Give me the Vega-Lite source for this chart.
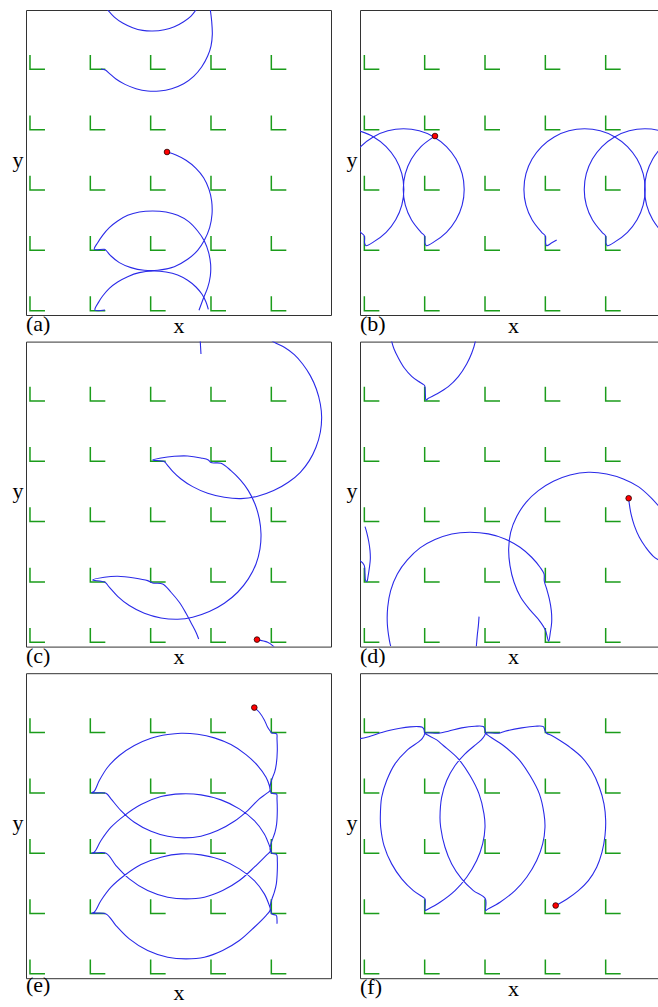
{
  "$schema": "https://vega.github.io/schema/vega-lite/v6.json",
  "padding": {"left": 11, "top": 9, "right": 0, "bottom": 0},
  "config": {
    "font": "Liberation Serif",
    "view": {"stroke": "#333333", "strokeWidth": 1},
    "axis": {"labels": false, "ticks": false, "domain": false, "grid": false, "titleFont": "Liberation Serif", "titleFontSize": 22, "titleFontWeight": "normal", "titleColor": "#000000", "minExtent": 0, "maxExtent": 0},
    "axisX": {"titlePadding": 0, "titleBaseline": "top"},
    "axisY": {"titleAngle": 0, "titleAlign": "right", "titleBaseline": "alphabetic", "titlePadding": 3, "titleY": 156},
    "title": {"font": "Liberation Serif", "fontSize": 22, "fontWeight": "normal", "color": "#000000", "orient": "bottom", "anchor": "start", "frame": "group", "offset": -22}
  },
  "datasets": {
    "lattice": [
      {"x": 0, "y": 0}, {"x": 1, "y": 0}, {"x": 2, "y": 0}, {"x": 3, "y": 0}, {"x": 4, "y": 0},
      {"x": 0, "y": 1}, {"x": 1, "y": 1}, {"x": 2, "y": 1}, {"x": 3, "y": 1}, {"x": 4, "y": 1},
      {"x": 0, "y": 2}, {"x": 1, "y": 2}, {"x": 2, "y": 2}, {"x": 3, "y": 2}, {"x": 4, "y": 2},
      {"x": 0, "y": 3}, {"x": 1, "y": 3}, {"x": 2, "y": 3}, {"x": 3, "y": 3}, {"x": 4, "y": 3},
      {"x": 0, "y": 4}, {"x": 1, "y": 4}, {"x": 2, "y": 4}, {"x": 3, "y": 4}, {"x": 4, "y": 4}
    ],
    "dots": [
      {"panel": "a", "x": 2.271, "y": 2.63},
      {"panel": "b", "x": 1.171, "y": 2.895},
      {"panel": "c", "x": 3.762, "y": 0.044},
      {"panel": "d", "x": 4.381, "y": 2.387},
      {"panel": "e", "x": 3.718, "y": 4.414},
      {"panel": "f", "x": 3.171, "y": 1.133}
    ],
    "pa": [
      {"seg":1,"ord":0,"x":2.271,"y":2.63},{"seg":1,"ord":1,"x":2.42,"y":2.58},{"seg":1,"ord":2,"x":2.586,"y":2.492},{"seg":1,"ord":3,"x":2.751,"y":2.359},
      {"seg":1,"ord":4,"x":2.878,"y":2.204},{"seg":1,"ord":5,"x":2.967,"y":2.011},{"seg":1,"ord":6,"x":3.011,"y":1.818},{"seg":1,"ord":7,"x":3.017,"y":1.597},
      {"seg":1,"ord":8,"x":2.978,"y":1.376},{"seg":1,"ord":9,"x":2.89,"y":1.166},{"seg":1,"ord":10,"x":2.779,"y":1.0},{"seg":1,"ord":11,"x":2.613,"y":0.851},
      {"seg":1,"ord":12,"x":2.392,"y":0.729},{"seg":1,"ord":13,"x":2.116,"y":0.669},{"seg":1,"ord":14,"x":1.895,"y":0.669},{"seg":1,"ord":15,"x":1.674,"y":0.713},
      {"seg":1,"ord":16,"x":1.481,"y":0.796},{"seg":1,"ord":17,"x":1.343,"y":0.906},{"seg":1,"ord":18,"x":1.26,"y":1.0},{"seg":1,"ord":19,"x":1.232,"y":1.017},
      {"seg":1,"ord":20,"x":1.066,"y":1.017},{"seg":1,"ord":21,"x":1.122,"y":1.127},{"seg":1,"ord":22,"x":1.204,"y":1.249},{"seg":1,"ord":23,"x":1.315,"y":1.376},
      {"seg":1,"ord":24,"x":1.453,"y":1.486},{"seg":1,"ord":25,"x":1.619,"y":1.58},{"seg":1,"ord":26,"x":1.812,"y":1.635},{"seg":1,"ord":27,"x":2.033,"y":1.652},
      {"seg":1,"ord":28,"x":2.254,"y":1.635},{"seg":1,"ord":29,"x":2.448,"y":1.58},{"seg":1,"ord":30,"x":2.63,"y":1.475},{"seg":1,"ord":31,"x":2.779,"y":1.32},
      {"seg":1,"ord":32,"x":2.89,"y":1.155},{"seg":1,"ord":33,"x":2.961,"y":0.961},{"seg":1,"ord":34,"x":2.994,"y":0.768},{"seg":1,"ord":35,"x":2.989,"y":0.575},
      {"seg":1,"ord":36,"x":2.945,"y":0.381},{"seg":1,"ord":37,"x":2.878,"y":0.215},{"seg":1,"ord":38,"x":2.801,"y":0.006},
      {"seg":2,"ord":39,"x":1.243,"y":0.011},{"seg":2,"ord":40,"x":1.077,"y":0.011},{"seg":2,"ord":41,"x":1.133,"y":0.133},{"seg":2,"ord":42,"x":1.204,"y":0.243},
      {"seg":2,"ord":43,"x":1.315,"y":0.37},{"seg":2,"ord":44,"x":1.453,"y":0.475},{"seg":2,"ord":45,"x":1.619,"y":0.564},{"seg":2,"ord":46,"x":1.812,"y":0.63},
      {"seg":2,"ord":47,"x":2.033,"y":0.657},{"seg":2,"ord":48,"x":2.254,"y":0.641},{"seg":2,"ord":49,"x":2.448,"y":0.591},{"seg":2,"ord":50,"x":2.613,"y":0.503},
      {"seg":2,"ord":51,"x":2.751,"y":0.392},{"seg":2,"ord":52,"x":2.851,"y":0.271},{"seg":2,"ord":53,"x":2.917,"y":0.144},{"seg":2,"ord":54,"x":2.956,"y":0.022},
      {"seg":3,"ord":55,"x":2.751,"y":4.985},{"seg":3,"ord":56,"x":2.669,"y":4.884},{"seg":3,"ord":57,"x":2.547,"y":4.79},{"seg":3,"ord":58,"x":2.392,"y":4.707},
      {"seg":3,"ord":59,"x":2.227,"y":4.657},{"seg":3,"ord":60,"x":2.033,"y":4.635},{"seg":3,"ord":61,"x":1.867,"y":4.646},{"seg":3,"ord":62,"x":1.702,"y":4.691},
      {"seg":3,"ord":63,"x":1.536,"y":4.768},{"seg":3,"ord":64,"x":1.398,"y":4.867},{"seg":3,"ord":65,"x":1.287,"y":4.985},
      {"seg":4,"ord":66,"x":2.989,"y":4.985},{"seg":4,"ord":67,"x":3.011,"y":4.801},{"seg":4,"ord":68,"x":3.022,"y":4.58},{"seg":4,"ord":69,"x":3.0,"y":4.387},
      {"seg":4,"ord":70,"x":2.945,"y":4.221},{"seg":4,"ord":71,"x":2.845,"y":4.039},{"seg":4,"ord":72,"x":2.713,"y":3.884},{"seg":4,"ord":73,"x":2.547,"y":3.762},
      {"seg":4,"ord":74,"x":2.348,"y":3.68},{"seg":4,"ord":75,"x":2.144,"y":3.641},{"seg":4,"ord":76,"x":1.95,"y":3.641},{"seg":4,"ord":77,"x":1.757,"y":3.68},
      {"seg":4,"ord":78,"x":1.575,"y":3.751},{"seg":4,"ord":79,"x":1.425,"y":3.84},{"seg":4,"ord":80,"x":1.315,"y":3.934},{"seg":4,"ord":81,"x":1.249,"y":3.989},
      {"seg":4,"ord":82,"x":1.177,"y":4.006}
    ],
    "pb": [
      {"seg":1,"ord":0,"x":3.188,"y":1.171},{"seg":1,"ord":1,"x":3.1,"y":1.12},{"seg":1,"ord":2,"x":3.022,"y":1.078},{"seg":1,"ord":3,"x":3.004,"y":1.12},
      {"seg":1,"ord":4,"x":3.0,"y":1.237},{"seg":1,"ord":5,"x":2.939,"y":1.299},{"seg":1,"ord":6,"x":2.78,"y":1.507},{"seg":1,"ord":7,"x":2.679,"y":1.75},
      {"seg":1,"ord":8,"x":2.645,"y":2.01},{"seg":1,"ord":9,"x":2.679,"y":2.27},{"seg":1,"ord":10,"x":2.78,"y":2.513},{"seg":1,"ord":11,"x":2.939,"y":2.721},
      {"seg":1,"ord":12,"x":3.147,"y":2.88},{"seg":1,"ord":13,"x":3.39,"y":2.981},{"seg":1,"ord":14,"x":3.65,"y":3.015},{"seg":1,"ord":15,"x":3.91,"y":2.981},
      {"seg":1,"ord":16,"x":4.153,"y":2.88},{"seg":1,"ord":17,"x":4.361,"y":2.721},{"seg":1,"ord":18,"x":4.52,"y":2.513},{"seg":1,"ord":19,"x":4.621,"y":2.27},
      {"seg":1,"ord":20,"x":4.655,"y":2.01},{"seg":1,"ord":21,"x":4.621,"y":1.75},{"seg":1,"ord":22,"x":4.52,"y":1.507},{"seg":1,"ord":23,"x":4.361,"y":1.299},
      {"seg":1,"ord":24,"x":4.153,"y":1.14},{"seg":1,"ord":25,"x":4.027,"y":1.078},{"seg":1,"ord":26,"x":4.004,"y":1.12},{"seg":1,"ord":27,"x":4.0,"y":1.237},
      {"seg":1,"ord":28,"x":3.939,"y":1.299},{"seg":1,"ord":29,"x":3.78,"y":1.507},{"seg":1,"ord":30,"x":3.679,"y":1.75},{"seg":1,"ord":31,"x":3.645,"y":2.01},
      {"seg":1,"ord":32,"x":3.679,"y":2.27},{"seg":1,"ord":33,"x":3.78,"y":2.513},{"seg":1,"ord":34,"x":3.939,"y":2.721},{"seg":1,"ord":35,"x":4.147,"y":2.88},
      {"seg":1,"ord":36,"x":4.39,"y":2.981},{"seg":1,"ord":37,"x":4.65,"y":3.015},{"seg":1,"ord":38,"x":4.91,"y":2.981},{"seg":1,"ord":39,"x":5.153,"y":2.88},
      {"seg":2,"ord":40,"x":-0.09,"y":2.981},{"seg":2,"ord":41,"x":0.153,"y":2.88},{"seg":2,"ord":42,"x":0.361,"y":2.721},{"seg":2,"ord":43,"x":0.52,"y":2.513},
      {"seg":2,"ord":44,"x":0.621,"y":2.27},{"seg":2,"ord":45,"x":0.655,"y":2.01},{"seg":2,"ord":46,"x":0.621,"y":1.75},{"seg":2,"ord":47,"x":0.52,"y":1.507},
      {"seg":2,"ord":48,"x":0.361,"y":1.299},{"seg":2,"ord":49,"x":0.153,"y":1.14},{"seg":2,"ord":50,"x":0.027,"y":1.078},{"seg":2,"ord":51,"x":0.004,"y":1.12},
      {"seg":2,"ord":52,"x":0.0,"y":1.237},{"seg":2,"ord":53,"x":-0.061,"y":1.299},{"seg":2,"ord":54,"x":-0.22,"y":1.507},{"seg":2,"ord":55,"x":-0.321,"y":1.75},
      {"seg":2,"ord":56,"x":-0.355,"y":2.01},{"seg":2,"ord":57,"x":-0.321,"y":2.27},{"seg":2,"ord":58,"x":-0.22,"y":2.513},{"seg":2,"ord":59,"x":-0.061,"y":2.721},
      {"seg":2,"ord":60,"x":0.147,"y":2.88},{"seg":2,"ord":61,"x":0.39,"y":2.981},{"seg":2,"ord":62,"x":0.65,"y":3.015},{"seg":2,"ord":63,"x":0.91,"y":2.981},
      {"seg":2,"ord":64,"x":1.153,"y":2.88},{"seg":2,"ord":65,"x":1.361,"y":2.721},{"seg":2,"ord":66,"x":1.52,"y":2.513},{"seg":2,"ord":67,"x":1.621,"y":2.27},
      {"seg":2,"ord":68,"x":1.655,"y":2.01},{"seg":2,"ord":69,"x":1.621,"y":1.75},{"seg":2,"ord":70,"x":1.52,"y":1.507},{"seg":2,"ord":71,"x":1.361,"y":1.299},
      {"seg":2,"ord":72,"x":1.153,"y":1.14},{"seg":2,"ord":73,"x":1.027,"y":1.078},{"seg":2,"ord":74,"x":1.004,"y":1.12},{"seg":2,"ord":75,"x":1.0,"y":1.237},
      {"seg":2,"ord":76,"x":0.939,"y":1.299},{"seg":2,"ord":77,"x":0.78,"y":1.507},{"seg":2,"ord":78,"x":0.679,"y":1.75},{"seg":2,"ord":79,"x":0.645,"y":2.01},
      {"seg":2,"ord":80,"x":0.679,"y":2.27},{"seg":2,"ord":81,"x":0.78,"y":2.513},{"seg":2,"ord":82,"x":0.939,"y":2.721},{"seg":2,"ord":83,"x":1.147,"y":2.88},
      {"seg":2,"ord":84,"x":1.171,"y":2.895},
      {"seg":3,"ord":85,"x":5.0,"y":1.243},{"seg":3,"ord":86,"x":4.939,"y":1.299},{"seg":3,"ord":87,"x":4.78,"y":1.507},{"seg":3,"ord":88,"x":4.679,"y":1.75},
      {"seg":3,"ord":89,"x":4.645,"y":2.01},{"seg":3,"ord":90,"x":4.679,"y":2.27},{"seg":3,"ord":91,"x":4.78,"y":2.513},{"seg":3,"ord":92,"x":4.939,"y":2.721},
      {"seg":3,"ord":93,"x":5.147,"y":2.88}
    ],
    "pc": [
      {"seg":1,"ord":0,"x":3.762,"y":0.044},{"seg":1,"ord":1,"x":3.939,"y":0.0},{"seg":1,"ord":2,"x":4.022,"y":-0.055},{"seg":1,"ord":3,"x":4.06,"y":-0.1},
      {"seg":2,"ord":4,"x":3.967,"y":5.03},{"seg":2,"ord":5,"x":4.05,"y":4.972},{"seg":2,"ord":6,"x":4.215,"y":4.89},{"seg":2,"ord":7,"x":4.381,"y":4.768},
      {"seg":2,"ord":8,"x":4.519,"y":4.613},{"seg":2,"ord":9,"x":4.646,"y":4.42},{"seg":2,"ord":10,"x":4.746,"y":4.199},{"seg":2,"ord":11,"x":4.812,"y":3.95},
      {"seg":2,"ord":12,"x":4.834,"y":3.729},{"seg":2,"ord":13,"x":4.812,"y":3.481},{"seg":2,"ord":14,"x":4.74,"y":3.232},{"seg":2,"ord":15,"x":4.63,"y":3.011},
      {"seg":2,"ord":16,"x":4.481,"y":2.818},{"seg":2,"ord":17,"x":4.282,"y":2.652},{"seg":2,"ord":18,"x":4.039,"y":2.514},{"seg":2,"ord":19,"x":3.773,"y":2.42},
      {"seg":2,"ord":20,"x":3.497,"y":2.381},{"seg":2,"ord":21,"x":3.221,"y":2.403},{"seg":2,"ord":22,"x":2.945,"y":2.47},{"seg":2,"ord":23,"x":2.696,"y":2.58},
      {"seg":2,"ord":24,"x":2.503,"y":2.707},{"seg":2,"ord":25,"x":2.365,"y":2.834},{"seg":2,"ord":26,"x":2.271,"y":2.945},{"seg":2,"ord":27,"x":2.227,"y":2.994},
      {"seg":2,"ord":28,"x":2.033,"y":3.022},{"seg":2,"ord":29,"x":2.171,"y":3.055},{"seg":2,"ord":30,"x":2.392,"y":3.083},{"seg":2,"ord":31,"x":2.613,"y":3.088},
      {"seg":2,"ord":32,"x":2.834,"y":3.055},{"seg":2,"ord":33,"x":2.956,"y":3.022},{"seg":2,"ord":34,"x":3.0,"y":2.978},{"seg":2,"ord":35,"x":3.166,"y":2.967},
      {"seg":2,"ord":36,"x":3.331,"y":2.845},{"seg":2,"ord":37,"x":3.486,"y":2.691},{"seg":2,"ord":38,"x":3.619,"y":2.514},{"seg":2,"ord":39,"x":3.729,"y":2.293},
      {"seg":2,"ord":40,"x":3.801,"y":2.044},{"seg":2,"ord":41,"x":3.829,"y":1.796},{"seg":2,"ord":42,"x":3.812,"y":1.547},{"seg":2,"ord":43,"x":3.746,"y":1.298},
      {"seg":2,"ord":44,"x":3.619,"y":1.05},{"seg":2,"ord":45,"x":3.442,"y":0.829},{"seg":2,"ord":46,"x":3.221,"y":0.646},{"seg":2,"ord":47,"x":2.972,"y":0.508},
      {"seg":2,"ord":48,"x":2.696,"y":0.414},{"seg":2,"ord":49,"x":2.448,"y":0.381},{"seg":2,"ord":50,"x":2.171,"y":0.403},{"seg":2,"ord":51,"x":1.895,"y":0.481},
      {"seg":2,"ord":52,"x":1.646,"y":0.608},{"seg":2,"ord":53,"x":1.453,"y":0.762},{"seg":2,"ord":54,"x":1.315,"y":0.912},{"seg":2,"ord":55,"x":1.243,"y":0.994},
      {"seg":2,"ord":56,"x":1.039,"y":1.033},{"seg":2,"ord":57,"x":1.232,"y":1.077},{"seg":2,"ord":58,"x":1.453,"y":1.094},{"seg":2,"ord":59,"x":1.729,"y":1.066},
      {"seg":2,"ord":60,"x":1.95,"y":1.022},{"seg":2,"ord":61,"x":2.033,"y":0.983},{"seg":2,"ord":62,"x":2.199,"y":0.967},{"seg":2,"ord":63,"x":2.337,"y":0.829},
      {"seg":2,"ord":64,"x":2.475,"y":0.663},{"seg":2,"ord":65,"x":2.586,"y":0.481},{"seg":2,"ord":66,"x":2.68,"y":0.304},{"seg":2,"ord":67,"x":2.751,"y":0.166},
      {"seg":2,"ord":68,"x":2.796,"y":0.055},
      {"seg":3,"ord":69,"x":2.82,"y":5.03},{"seg":3,"ord":70,"x":2.823,"y":4.972},{"seg":3,"ord":71,"x":2.834,"y":4.779}
    ],
    "pd": [
      {"seg":1,"ord":0,"x":1.901,"y":0.425},{"seg":1,"ord":1,"x":1.89,"y":0.276},{"seg":1,"ord":2,"x":1.873,"y":0.127},{"seg":1,"ord":3,"x":1.862,"y":0.0},
      {"seg":1,"ord":4,"x":1.856,"y":-0.07},
      {"seg":2,"ord":5,"x":1.845,"y":5.03},{"seg":2,"ord":6,"x":1.84,"y":4.989},{"seg":2,"ord":7,"x":1.779,"y":4.79},{"seg":2,"ord":8,"x":1.696,"y":4.613},
      {"seg":2,"ord":9,"x":1.558,"y":4.403},{"seg":2,"ord":10,"x":1.392,"y":4.238},{"seg":2,"ord":11,"x":1.199,"y":4.116},{"seg":2,"ord":12,"x":1.061,"y":4.044},
      {"seg":2,"ord":13,"x":1.022,"y":4.017},{"seg":2,"ord":14,"x":1.011,"y":4.116},{"seg":2,"ord":15,"x":1.0,"y":4.254},{"seg":2,"ord":16,"x":0.967,"y":4.282},
      {"seg":2,"ord":17,"x":0.895,"y":4.326},{"seg":2,"ord":18,"x":0.785,"y":4.409},{"seg":2,"ord":19,"x":0.663,"y":4.547},{"seg":2,"ord":20,"x":0.564,"y":4.713},
      {"seg":2,"ord":21,"x":0.492,"y":4.862},{"seg":2,"ord":22,"x":0.453,"y":4.989},{"seg":2,"ord":23,"x":0.445,"y":5.03},
      {"seg":3,"ord":24,"x":0.436,"y":-0.066},{"seg":3,"ord":25,"x":0.414,"y":0.039},{"seg":3,"ord":26,"x":0.381,"y":0.304},{"seg":3,"ord":27,"x":0.387,"y":0.58},
      {"seg":3,"ord":28,"x":0.436,"y":0.856},{"seg":3,"ord":29,"x":0.547,"y":1.133},{"seg":3,"ord":30,"x":0.713,"y":1.365},{"seg":3,"ord":31,"x":0.923,"y":1.564},
      {"seg":3,"ord":32,"x":1.171,"y":1.702},{"seg":3,"ord":33,"x":1.448,"y":1.796},{"seg":3,"ord":34,"x":1.751,"y":1.823},{"seg":3,"ord":35,"x":2.055,"y":1.796},
      {"seg":3,"ord":36,"x":2.331,"y":1.713},{"seg":3,"ord":37,"x":2.58,"y":1.575},{"seg":3,"ord":38,"x":2.773,"y":1.409},{"seg":3,"ord":39,"x":2.912,"y":1.243},
      {"seg":3,"ord":40,"x":2.978,"y":1.133},{"seg":3,"ord":41,"x":2.983,"y":1.011},{"seg":3,"ord":42,"x":3.022,"y":0.884},{"seg":3,"ord":43,"x":3.066,"y":0.718},
      {"seg":3,"ord":44,"x":3.099,"y":0.525},{"seg":3,"ord":45,"x":3.105,"y":0.331},{"seg":3,"ord":46,"x":3.083,"y":0.166},{"seg":3,"ord":47,"x":3.055,"y":0.017},
      {"seg":3,"ord":48,"x":3.0,"y":0.204},{"seg":3,"ord":49,"x":2.901,"y":0.359},{"seg":3,"ord":50,"x":2.746,"y":0.536},{"seg":3,"ord":51,"x":2.591,"y":0.746},
      {"seg":3,"ord":52,"x":2.481,"y":0.994},{"seg":3,"ord":53,"x":2.414,"y":1.271},{"seg":3,"ord":54,"x":2.392,"y":1.547},{"seg":3,"ord":55,"x":2.425,"y":1.823},
      {"seg":3,"ord":56,"x":2.525,"y":2.083},{"seg":3,"ord":57,"x":2.68,"y":2.32},{"seg":3,"ord":58,"x":2.884,"y":2.514},{"seg":3,"ord":59,"x":3.133,"y":2.669},
      {"seg":3,"ord":60,"x":3.409,"y":2.773},{"seg":3,"ord":61,"x":3.713,"y":2.818},{"seg":3,"ord":62,"x":4.017,"y":2.79},{"seg":3,"ord":63,"x":4.293,"y":2.707},
      {"seg":3,"ord":64,"x":4.541,"y":2.58},{"seg":3,"ord":65,"x":4.746,"y":2.403},{"seg":3,"ord":66,"x":4.873,"y":2.265},{"seg":3,"ord":67,"x":4.983,"y":2.127},
      {"seg":4,"ord":68,"x":0.011,"y":1.917},{"seg":4,"ord":69,"x":0.039,"y":1.823},{"seg":4,"ord":70,"x":0.072,"y":1.674},{"seg":4,"ord":71,"x":0.094,"y":1.519},
      {"seg":4,"ord":72,"x":0.099,"y":1.381},{"seg":4,"ord":73,"x":0.083,"y":1.232},{"seg":4,"ord":74,"x":0.061,"y":1.088},{"seg":4,"ord":75,"x":0.044,"y":1.011},
      {"seg":4,"ord":76,"x":0.022,"y":1.022},{"seg":4,"ord":77,"x":0.011,"y":1.133},{"seg":4,"ord":78,"x":0.0,"y":1.271},{"seg":4,"ord":79,"x":-0.028,"y":1.315},
      {"seg":4,"ord":80,"x":-0.08,"y":1.36},
      {"seg":5,"ord":81,"x":4.956,"y":1.315},{"seg":5,"ord":82,"x":4.79,"y":1.425},{"seg":5,"ord":83,"x":4.663,"y":1.575},{"seg":5,"ord":84,"x":4.558,"y":1.74},
      {"seg":5,"ord":85,"x":4.475,"y":1.934},{"seg":5,"ord":86,"x":4.42,"y":2.127},{"seg":5,"ord":87,"x":4.392,"y":2.293},{"seg":5,"ord":88,"x":4.381,"y":2.387}
    ],
    "pe": [
      {"seg":1,"ord":0,"x":3.718,"y":4.414},{"seg":1,"ord":1,"x":3.801,"y":4.337},{"seg":1,"ord":2,"x":3.884,"y":4.21},{"seg":1,"ord":3,"x":3.939,"y":4.088},
      {"seg":1,"ord":4,"x":3.983,"y":4.022},{"seg":1,"ord":5,"x":4.006,"y":3.994},{"seg":1,"ord":6,"x":4.088,"y":3.978},{"seg":1,"ord":7,"x":4.094,"y":3.895},
      {"seg":1,"ord":8,"x":4.099,"y":3.702},{"seg":1,"ord":9,"x":4.083,"y":3.481},{"seg":1,"ord":10,"x":4.055,"y":3.343},{"seg":1,"ord":11,"x":4.022,"y":3.26},
      {"seg":1,"ord":12,"x":3.994,"y":3.177},{"seg":1,"ord":13,"x":3.978,"y":3.094},{"seg":1,"ord":14,"x":3.978,"y":3.039},
      {"seg":1,"ord":15,"x":3.912,"y":2.983},{"seg":1,"ord":16,"x":3.801,"y":2.901},{"seg":1,"ord":17,"x":3.608,"y":2.707},{"seg":1,"ord":18,"x":3.387,"y":2.53},
      {"seg":1,"ord":19,"x":3.11,"y":2.376},{"seg":1,"ord":20,"x":2.834,"y":2.282},{"seg":1,"ord":21,"x":2.558,"y":2.254},{"seg":1,"ord":22,"x":2.282,"y":2.282},
      {"seg":1,"ord":23,"x":2.006,"y":2.365},{"seg":1,"ord":24,"x":1.729,"y":2.514},{"seg":1,"ord":25,"x":1.508,"y":2.707},{"seg":1,"ord":26,"x":1.343,"y":2.901},
      {"seg":1,"ord":27,"x":1.26,"y":2.994},{"seg":1,"ord":28,"x":1.022,"y":3.0},
      {"seg":1,"ord":29,"x":1.066,"y":3.028},{"seg":1,"ord":30,"x":1.149,"y":3.204},{"seg":1,"ord":31,"x":1.287,"y":3.425},{"seg":1,"ord":32,"x":1.481,"y":3.619},
      {"seg":1,"ord":33,"x":1.729,"y":3.785},{"seg":1,"ord":34,"x":2.006,"y":3.906},{"seg":1,"ord":35,"x":2.282,"y":3.967},{"seg":1,"ord":36,"x":2.503,"y":3.989},
      {"seg":1,"ord":37,"x":2.779,"y":3.972},{"seg":1,"ord":38,"x":3.055,"y":3.912},{"seg":1,"ord":39,"x":3.331,"y":3.801},{"seg":1,"ord":40,"x":3.58,"y":3.635},
      {"seg":1,"ord":41,"x":3.773,"y":3.453},{"seg":1,"ord":42,"x":3.912,"y":3.26},{"seg":1,"ord":43,"x":3.967,"y":3.122},{"seg":1,"ord":44,"x":3.983,"y":3.039},
      {"seg":1,"ord":45,"x":4.006,"y":2.994},{"seg":1,"ord":46,"x":4.088,"y":2.978},
      {"seg":1,"ord":47,"x":4.094,"y":2.901},{"seg":1,"ord":48,"x":4.099,"y":2.707},{"seg":1,"ord":49,"x":4.088,"y":2.486},{"seg":1,"ord":50,"x":4.061,"y":2.348},
      {"seg":1,"ord":51,"x":4.022,"y":2.238},{"seg":1,"ord":52,"x":3.994,"y":2.155},{"seg":1,"ord":53,"x":3.978,"y":2.072},{"seg":1,"ord":54,"x":3.983,"y":2.033},
      {"seg":1,"ord":55,"x":3.912,"y":1.961},{"seg":1,"ord":56,"x":3.718,"y":1.768},{"seg":1,"ord":57,"x":3.47,"y":1.547},{"seg":1,"ord":58,"x":3.193,"y":1.381},
      {"seg":1,"ord":59,"x":2.89,"y":1.271},{"seg":1,"ord":60,"x":2.586,"y":1.243},{"seg":1,"ord":61,"x":2.282,"y":1.271},{"seg":1,"ord":62,"x":1.95,"y":1.381},
      {"seg":1,"ord":63,"x":1.646,"y":1.575},{"seg":1,"ord":64,"x":1.425,"y":1.796},{"seg":1,"ord":65,"x":1.26,"y":2.0},{"seg":1,"ord":66,"x":1.022,"y":2.0},
      {"seg":1,"ord":67,"x":1.066,"y":2.017},{"seg":1,"ord":68,"x":1.177,"y":2.21},{"seg":1,"ord":69,"x":1.343,"y":2.431},{"seg":1,"ord":70,"x":1.564,"y":2.624},
      {"seg":1,"ord":71,"x":1.84,"y":2.807},{"seg":1,"ord":72,"x":2.171,"y":2.939},{"seg":1,"ord":73,"x":2.503,"y":2.983},{"seg":1,"ord":74,"x":2.834,"y":2.967},
      {"seg":1,"ord":75,"x":3.166,"y":2.884},{"seg":1,"ord":76,"x":3.47,"y":2.735},{"seg":1,"ord":77,"x":3.718,"y":2.541},{"seg":1,"ord":78,"x":3.884,"y":2.32},
      {"seg":1,"ord":79,"x":3.967,"y":2.127},{"seg":1,"ord":80,"x":3.994,"y":2.044},{"seg":1,"ord":81,"x":4.006,"y":2.0},{"seg":1,"ord":82,"x":4.088,"y":1.978},
      {"seg":1,"ord":83,"x":4.099,"y":1.878},{"seg":1,"ord":84,"x":4.099,"y":1.713},{"seg":1,"ord":85,"x":4.083,"y":1.492},{"seg":1,"ord":86,"x":4.05,"y":1.354},
      {"seg":1,"ord":87,"x":4.011,"y":1.243},{"seg":1,"ord":88,"x":3.983,"y":1.133},{"seg":1,"ord":89,"x":3.978,"y":1.05},
      {"seg":1,"ord":90,"x":3.912,"y":0.967},{"seg":1,"ord":91,"x":3.718,"y":0.773},{"seg":1,"ord":92,"x":3.47,"y":0.552},{"seg":1,"ord":93,"x":3.193,"y":0.387},
      {"seg":1,"ord":94,"x":2.89,"y":0.276},{"seg":1,"ord":95,"x":2.586,"y":0.249},{"seg":1,"ord":96,"x":2.282,"y":0.276},{"seg":1,"ord":97,"x":1.95,"y":0.387},
      {"seg":1,"ord":98,"x":1.646,"y":0.58},{"seg":1,"ord":99,"x":1.425,"y":0.801},{"seg":1,"ord":100,"x":1.26,"y":0.994},{"seg":1,"ord":101,"x":1.022,"y":1.006},
      {"seg":1,"ord":102,"x":1.066,"y":1.022},{"seg":1,"ord":103,"x":1.177,"y":1.215},{"seg":1,"ord":104,"x":1.343,"y":1.436},{"seg":1,"ord":105,"x":1.564,"y":1.63},
      {"seg":1,"ord":106,"x":1.84,"y":1.812},{"seg":1,"ord":107,"x":2.171,"y":1.934},{"seg":1,"ord":108,"x":2.503,"y":1.989},{"seg":1,"ord":109,"x":2.834,"y":1.972},
      {"seg":1,"ord":110,"x":3.166,"y":1.89},{"seg":1,"ord":111,"x":3.47,"y":1.74},{"seg":1,"ord":112,"x":3.718,"y":1.547},{"seg":1,"ord":113,"x":3.884,"y":1.326},
      {"seg":1,"ord":114,"x":3.967,"y":1.133},{"seg":1,"ord":115,"x":3.994,"y":1.039},{"seg":1,"ord":116,"x":4.006,"y":0.994},{"seg":1,"ord":117,"x":4.083,"y":0.967},
      {"seg":1,"ord":118,"x":4.094,"y":0.895},{"seg":1,"ord":119,"x":4.094,"y":0.829}
    ],
    "pf": [
      {"seg":1,"ord":0,"x":-0.08,"y":3.897},{"seg":1,"ord":1,"x":0.039,"y":3.923},{"seg":1,"ord":2,"x":0.149,"y":3.956},{"seg":1,"ord":3,"x":0.287,"y":4.0},
      {"seg":1,"ord":4,"x":0.425,"y":4.039},{"seg":1,"ord":5,"x":0.591,"y":4.072},{"seg":1,"ord":6,"x":0.757,"y":4.094},{"seg":1,"ord":7,"x":0.895,"y":4.099},
      {"seg":1,"ord":8,"x":0.961,"y":4.088},{"seg":1,"ord":9,"x":0.989,"y":4.05},{"seg":1,"ord":10,"x":1.0,"y":3.994},
      {"seg":1,"ord":11,"x":1.033,"y":3.967},{"seg":1,"ord":12,"x":1.199,"y":3.878},{"seg":1,"ord":13,"x":1.309,"y":3.785},{"seg":1,"ord":14,"x":1.558,"y":3.564},
      {"seg":1,"ord":15,"x":1.751,"y":3.287},{"seg":1,"ord":16,"x":1.901,"y":2.983},{"seg":1,"ord":17,"x":1.983,"y":2.652},{"seg":1,"ord":18,"x":2.0,"y":2.431},
      {"seg":1,"ord":19,"x":1.961,"y":2.155},{"seg":1,"ord":20,"x":1.862,"y":1.878},{"seg":1,"ord":21,"x":1.696,"y":1.602},{"seg":1,"ord":22,"x":1.503,"y":1.381},
      {"seg":1,"ord":23,"x":1.254,"y":1.188},{"seg":1,"ord":24,"x":1.033,"y":1.061},{"seg":1,"ord":25,"x":1.011,"y":1.05},{"seg":1,"ord":26,"x":1.006,"y":1.243},
      {"seg":1,"ord":27,"x":0.989,"y":1.26},{"seg":1,"ord":28,"x":0.812,"y":1.381},{"seg":1,"ord":29,"x":0.619,"y":1.575},{"seg":1,"ord":30,"x":0.453,"y":1.823},
      {"seg":1,"ord":31,"x":0.326,"y":2.127},{"seg":1,"ord":32,"x":0.271,"y":2.431},{"seg":1,"ord":33,"x":0.265,"y":2.597},{"seg":1,"ord":34,"x":0.287,"y":2.928},
      {"seg":1,"ord":35,"x":0.37,"y":3.204},{"seg":1,"ord":36,"x":0.508,"y":3.481},{"seg":1,"ord":37,"x":0.702,"y":3.702},{"seg":1,"ord":38,"x":0.939,"y":3.878},
      {"seg":1,"ord":39,"x":0.989,"y":3.95},{"seg":1,"ord":40,"x":1.006,"y":3.989},{"seg":1,"ord":41,"x":1.227,"y":3.989},
      {"seg":1,"ord":42,"x":1.392,"y":4.022},{"seg":1,"ord":43,"x":1.613,"y":4.077},{"seg":1,"ord":44,"x":1.834,"y":4.105},{"seg":1,"ord":45,"x":1.972,"y":4.099},
      {"seg":1,"ord":46,"x":2.0,"y":4.044},{"seg":1,"ord":47,"x":2.011,"y":3.989},
      {"seg":1,"ord":48,"x":2.039,"y":3.961},{"seg":1,"ord":49,"x":2.304,"y":3.785},{"seg":1,"ord":50,"x":2.552,"y":3.564},{"seg":1,"ord":51,"x":2.746,"y":3.287},
      {"seg":1,"ord":52,"x":2.901,"y":2.983},{"seg":1,"ord":53,"x":2.978,"y":2.652},{"seg":1,"ord":54,"x":2.994,"y":2.431},{"seg":1,"ord":55,"x":2.956,"y":2.155},
      {"seg":1,"ord":56,"x":2.856,"y":1.878},{"seg":1,"ord":57,"x":2.691,"y":1.602},{"seg":1,"ord":58,"x":2.497,"y":1.381},{"seg":1,"ord":59,"x":2.249,"y":1.188},
      {"seg":1,"ord":60,"x":2.028,"y":1.061},{"seg":1,"ord":61,"x":2.011,"y":1.05},{"seg":1,"ord":62,"x":2.006,"y":1.243},
      {"seg":1,"ord":63,"x":1.807,"y":1.381},{"seg":1,"ord":64,"x":1.613,"y":1.575},{"seg":1,"ord":65,"x":1.448,"y":1.823},{"seg":1,"ord":66,"x":1.337,"y":2.099},
      {"seg":1,"ord":67,"x":1.265,"y":2.431},{"seg":1,"ord":68,"x":1.254,"y":2.597},{"seg":1,"ord":69,"x":1.282,"y":2.928},{"seg":1,"ord":70,"x":1.365,"y":3.204},
      {"seg":1,"ord":71,"x":1.503,"y":3.453},{"seg":1,"ord":72,"x":1.669,"y":3.646},{"seg":1,"ord":73,"x":1.862,"y":3.812},{"seg":1,"ord":74,"x":1.939,"y":3.878},
      {"seg":1,"ord":75,"x":1.994,"y":3.95},{"seg":1,"ord":76,"x":2.011,"y":3.989},{"seg":1,"ord":77,"x":2.221,"y":3.989},
      {"seg":1,"ord":78,"x":2.331,"y":4.022},{"seg":1,"ord":79,"x":2.608,"y":4.077},{"seg":1,"ord":80,"x":2.829,"y":4.105},{"seg":1,"ord":81,"x":2.967,"y":4.099},
      {"seg":1,"ord":82,"x":2.994,"y":4.033},{"seg":1,"ord":83,"x":3.022,"y":3.989},
      {"seg":1,"ord":84,"x":3.105,"y":3.95},{"seg":1,"ord":85,"x":3.243,"y":3.867},{"seg":1,"ord":86,"x":3.42,"y":3.746},{"seg":1,"ord":87,"x":3.602,"y":3.591},
      {"seg":1,"ord":88,"x":3.768,"y":3.37},{"seg":1,"ord":89,"x":3.895,"y":3.094},{"seg":1,"ord":90,"x":3.972,"y":2.818},{"seg":1,"ord":91,"x":4.0,"y":2.541},
      {"seg":1,"ord":92,"x":3.989,"y":2.293},{"seg":1,"ord":93,"x":3.939,"y":2.017},{"seg":1,"ord":94,"x":3.851,"y":1.768},{"seg":1,"ord":95,"x":3.713,"y":1.547},
      {"seg":1,"ord":96,"x":3.547,"y":1.381},{"seg":1,"ord":97,"x":3.354,"y":1.238},{"seg":1,"ord":98,"x":3.171,"y":1.133}
    ]
  },
  "spacing": 3.6,
  "vconcat": [
    {
      "spacing": 13,
      "hconcat": [
        {
          "width": 305, "height": 305,
          "title": "(a)",
          "encoding": {
            "x": {"field": "x", "type": "quantitative", "scale": {"domain": [-0.066, 4.989], "nice": false, "zero": false}, "axis": {"title": "x"}},
            "y": {"field": "y", "type": "quantitative", "scale": {"domain": [-0.072, 4.984], "nice": false, "zero": false}, "axis": {"title": "y"}}
          },
          "layer": [
            {"data": {"name": "lattice"}, "mark": {"type": "point", "shape": "M0,-0.953L0,0L1,0", "size": 900, "filled": false, "stroke": "#1b9c1b", "strokeWidth": 1.5, "opacity": 1}},
            {"data": {"name": "pa"}, "mark": {"type": "line", "interpolate": "catmull-rom", "stroke": "#2a2ae8", "strokeWidth": 1.1, "clip": true}, "encoding": {"detail": {"field": "seg"}, "order": {"field": "ord"}}},
            {"data": {"name": "dots"}, "transform": [{"filter": "datum.panel == 'a'"}], "mark": {"type": "point", "shape": "circle", "filled": true, "fill": "#ff0000", "stroke": "#220000", "strokeWidth": 0.8, "size": 32, "opacity": 1}}
          ]
        },
        {
          "width": 301, "height": 305,
          "title": "(b)",
          "encoding": {
            "x": {"field": "x", "type": "quantitative", "scale": {"domain": [-0.072, 4.917], "nice": false, "zero": false}, "axis": {"title": "x", "titleX": 153}},
            "y": {"field": "y", "type": "quantitative", "scale": {"domain": [-0.072, 4.984], "nice": false, "zero": false}, "axis": {"title": "y"}}
          },
          "layer": [
            {"data": {"name": "lattice"}, "mark": {"type": "point", "shape": "M0,-0.953L0,0L1,0", "size": 900, "filled": false, "stroke": "#1b9c1b", "strokeWidth": 1.5, "opacity": 1}},
            {"data": {"name": "pb"}, "mark": {"type": "line", "interpolate": "catmull-rom", "stroke": "#2a2ae8", "strokeWidth": 1.1, "clip": true}, "encoding": {"detail": {"field": "seg"}, "order": {"field": "ord"}}},
            {"data": {"name": "dots"}, "transform": [{"filter": "datum.panel == 'b'"}], "mark": {"type": "point", "shape": "circle", "filled": true, "fill": "#ff0000", "stroke": "#220000", "strokeWidth": 0.8, "size": 32, "opacity": 1}}
          ]
        }
      ]
    },
    {
      "spacing": 13,
      "hconcat": [
        {
          "width": 305, "height": 305,
          "title": "(c)",
          "encoding": {
            "x": {"field": "x", "type": "quantitative", "scale": {"domain": [-0.066, 4.989], "nice": false, "zero": false}, "axis": {"title": "x"}},
            "y": {"field": "y", "type": "quantitative", "scale": {"domain": [-0.072, 4.984], "nice": false, "zero": false}, "axis": {"title": "y"}}
          },
          "layer": [
            {"data": {"name": "lattice"}, "mark": {"type": "point", "shape": "M0,-0.953L0,0L1,0", "size": 900, "filled": false, "stroke": "#1b9c1b", "strokeWidth": 1.5, "opacity": 1}},
            {"data": {"name": "pc"}, "mark": {"type": "line", "interpolate": "catmull-rom", "stroke": "#2a2ae8", "strokeWidth": 1.1, "clip": true}, "encoding": {"detail": {"field": "seg"}, "order": {"field": "ord"}}},
            {"data": {"name": "dots"}, "transform": [{"filter": "datum.panel == 'c'"}], "mark": {"type": "point", "shape": "circle", "filled": true, "fill": "#ff0000", "stroke": "#220000", "strokeWidth": 0.8, "size": 32, "opacity": 1}}
          ]
        },
        {
          "width": 301, "height": 305,
          "title": "(d)",
          "encoding": {
            "x": {"field": "x", "type": "quantitative", "scale": {"domain": [-0.072, 4.917], "nice": false, "zero": false}, "axis": {"title": "x", "titleX": 153}},
            "y": {"field": "y", "type": "quantitative", "scale": {"domain": [-0.072, 4.984], "nice": false, "zero": false}, "axis": {"title": "y"}}
          },
          "layer": [
            {"data": {"name": "lattice"}, "mark": {"type": "point", "shape": "M0,-0.953L0,0L1,0", "size": 900, "filled": false, "stroke": "#1b9c1b", "strokeWidth": 1.5, "opacity": 1}},
            {"data": {"name": "pd"}, "mark": {"type": "line", "interpolate": "catmull-rom", "stroke": "#2a2ae8", "strokeWidth": 1.1, "clip": true}, "encoding": {"detail": {"field": "seg"}, "order": {"field": "ord"}}},
            {"data": {"name": "dots"}, "transform": [{"filter": "datum.panel == 'd'"}], "mark": {"type": "point", "shape": "circle", "filled": true, "fill": "#ff0000", "stroke": "#220000", "strokeWidth": 0.8, "size": 32, "opacity": 1}}
          ]
        }
      ]
    },
    {
      "spacing": 13,
      "hconcat": [
        {
          "width": 305, "height": 305,
          "title": {"text": "(e)", "offset": -28},
          "encoding": {
            "x": {"field": "x", "type": "quantitative", "scale": {"domain": [-0.066, 4.989], "nice": false, "zero": false}, "axis": {"title": "x", "titlePadding": 4}},
            "y": {"field": "y", "type": "quantitative", "scale": {"domain": [-0.072, 4.984], "nice": false, "zero": false}, "axis": {"title": "y"}}
          },
          "layer": [
            {"data": {"name": "lattice"}, "mark": {"type": "point", "shape": "M0,-0.953L0,0L1,0", "size": 900, "filled": false, "stroke": "#1b9c1b", "strokeWidth": 1.5, "opacity": 1}},
            {"data": {"name": "pe"}, "mark": {"type": "line", "interpolate": "catmull-rom", "stroke": "#2a2ae8", "strokeWidth": 1.1, "clip": true}, "encoding": {"detail": {"field": "seg"}, "order": {"field": "ord"}}},
            {"data": {"name": "dots"}, "transform": [{"filter": "datum.panel == 'e'"}], "mark": {"type": "point", "shape": "circle", "filled": true, "fill": "#ff0000", "stroke": "#220000", "strokeWidth": 0.8, "size": 32, "opacity": 1}}
          ]
        },
        {
          "width": 301, "height": 305,
          "title": "(f)",
          "encoding": {
            "x": {"field": "x", "type": "quantitative", "scale": {"domain": [-0.072, 4.917], "nice": false, "zero": false}, "axis": {"title": "x", "titleX": 153}},
            "y": {"field": "y", "type": "quantitative", "scale": {"domain": [-0.072, 4.984], "nice": false, "zero": false}, "axis": {"title": "y"}}
          },
          "layer": [
            {"data": {"name": "lattice"}, "mark": {"type": "point", "shape": "M0,-0.953L0,0L1,0", "size": 900, "filled": false, "stroke": "#1b9c1b", "strokeWidth": 1.5, "opacity": 1}},
            {"data": {"name": "pf"}, "mark": {"type": "line", "interpolate": "catmull-rom", "stroke": "#2a2ae8", "strokeWidth": 1.1, "clip": true}, "encoding": {"detail": {"field": "seg"}, "order": {"field": "ord"}}},
            {"data": {"name": "dots"}, "transform": [{"filter": "datum.panel == 'f'"}], "mark": {"type": "point", "shape": "circle", "filled": true, "fill": "#ff0000", "stroke": "#220000", "strokeWidth": 0.8, "size": 32, "opacity": 1}}
          ]
        }
      ]
    }
  ]
}
